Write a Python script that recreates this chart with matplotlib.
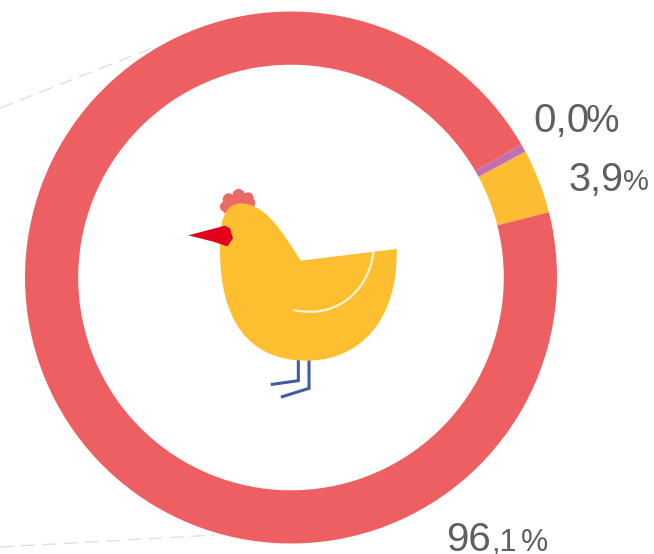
import matplotlib
matplotlib.use("Agg")
import matplotlib.pyplot as plt
from matplotlib.path import Path
from matplotlib.patches import PathPatch, Circle, Polygon

# drawn widths of the slices, the 0,0% slice still shows as a thin band
slices = [3.9, 0.5, 95.6]
colors = ["#fdbd33", "#c170b0", "#ee5f62"]
W, H = 654, 554
plt.rcParams["font.family"] = ["Liberation Sans", "DejaVu Sans"]
text_color = "#5f5f5f"

fig = plt.figure(figsize=(W / 100, H / 100), dpi=100)

# pie axes, centred on the ring
cx, cy, R = 291, 277.5, 266
ax = fig.add_axes([(cx - R) / W, 1 - (cy + R) / H, 2 * R / W, 2 * R / H])
ax.pie(slices, colors=colors, startangle=14.2, radius=1,
       wedgeprops={"width": 0.2, "linewidth": 0})
ax.set_xlim(-1, 1)
ax.set_ylim(-1, 1)

# overlay in pixel coordinates for the picture and the labels
ov = fig.add_axes([0, 0, 1, 1], zorder=3)
ov.set_xlim(0, W)
ov.set_ylim(H, 0)
ov.axis("off")
ov.patch.set_alpha(0)

ov.plot([0, 155], [108, 47], color="#dddddd", lw=0.9, dashes=(11, 6), zorder=1)
ov.plot([0, 215], [547, 535], color="#dddddd", lw=0.9, dashes=(11, 6), zorder=1)


def z(x, y):
    # zoom crop coordinates to image pixels
    return (170 + x / 3, 170 + y / 3)


# comb
for x, y, r in [(166, 110, 16), (176, 88, 18), (206, 76, 19), (234, 84, 17), (242, 98, 14)]:
    ov.add_patch(Circle(z(x, y), r / 3, color="#ea6a68", lw=0, zorder=4))
ov.add_patch(Polygon([z(160, 130), z(175, 90), z(240, 90), z(255, 110)], color="#ea6a68", lw=0, zorder=4))

# legs
blue = "#3f5ca6"
ov.plot(*zip(z(385, 565), z(385, 632), z(307, 643)), color=blue, lw=2.2, zorder=4, solid_joinstyle="miter")
ov.plot(*zip(z(417, 565), z(417, 655), z(337, 680)), color=blue, lw=2.2, zorder=4, solid_joinstyle="miter")

# body
verts = [z(150, 240),
         z(148, 160), z(160, 100), z(215, 100),
         z(290, 105), z(340, 190), z(392, 272),
         z(680, 237),
         z(685, 450), z(570, 572), z(410, 572),
         z(235, 572), z(150, 450), z(150, 240)]
codes = [Path.MOVETO,
         Path.CURVE4, Path.CURVE4, Path.CURVE4,
         Path.CURVE4, Path.CURVE4, Path.CURVE4,
         Path.LINETO,
         Path.CURVE4, Path.CURVE4, Path.CURVE4,
         Path.CURVE4, Path.CURVE4, Path.CURVE4]
ov.add_patch(PathPatch(Path(verts, codes), fc="#fdbf30", lw=0, zorder=5))

# wing line
wing = [z(610, 245), z(600, 350), z(510, 450), z(370, 420)]
ov.add_patch(PathPatch(Path(wing, [Path.MOVETO, Path.CURVE4, Path.CURVE4, Path.CURVE4]),
                       fc="none", ec="#fff3d6", lw=1.6, zorder=6))

# beak
ov.add_patch(Polygon([z(55, 196), z(165, 167), z(180, 175), z(189, 205), z(172, 229), z(130, 215)],
                     color="#e2001a", lw=0, zorder=6))

# labels, the digits and the percent signs differ in size
ov.text(533, 132, "0,0", fontsize=29, color=text_color, va="baseline", ha="left")
ov.text(586, 132, "%", fontsize=27, color=text_color, va="baseline", ha="left")
ov.text(568.5, 190.5, "3,9", fontsize=28.5, color=text_color, va="baseline", ha="left")
ov.text(623.5, 190.5, "%", fontsize=21, color=text_color, va="baseline", ha="left")
ov.text(446, 551, "96", fontsize=29, color=text_color, va="baseline", ha="left")
ov.text(491, 551, ",1", fontsize=22, color=text_color, va="baseline", ha="left")
ov.text(521, 551, "%", fontsize=22, color=text_color, va="baseline", ha="left")

fig.savefig("out.png", dpi=100)
